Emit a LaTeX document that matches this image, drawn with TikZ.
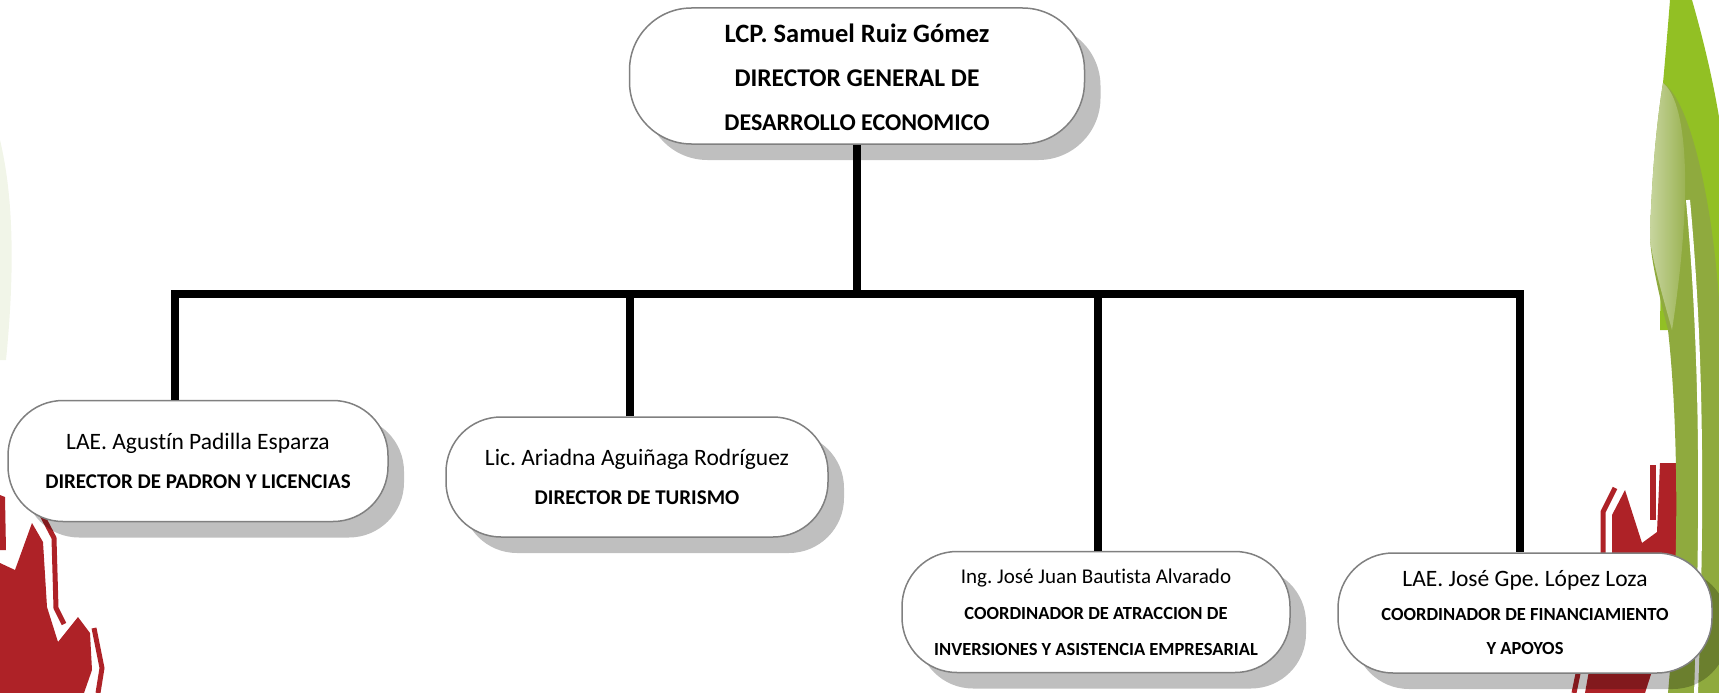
\documentclass[tikz,border=0pt]{standalone}
\usepackage{fontspec}
\setmainfont{Carlito}[Ligatures=NoCommon]
\usetikzlibrary{shadows}
\frenchspacing

\definecolor{boxline}{RGB}{128,128,128}
\definecolor{leafgreen}{RGB}{146,192,36}
\definecolor{leafolive}{RGB}{143,170,62}
\definecolor{flamered}{RGB}{174,34,39}

\tikzset{
  orgbox/.style={draw=boxline, line width=1.5pt, fill=white, rounded corners=55pt,
    align=center, inner sep=0pt,
    drop shadow={shadow xshift=16pt, shadow yshift=-16pt, opacity=0.25, fill=black}},
  wire/.style={line width=8.5pt, line join=miter},
}
\newcommand\namefont{\fontsize{23.5}{39}\selectfont}
\newcommand\smallname{\fontsize{21}{36}\selectfont}
\newcommand\posfont[1]{{\bfseries\fontsize{21}{39}\selectfont #1}}
\newcommand\coordfont[1]{{\bfseries\fontsize{18.5}{36}\selectfont #1}}

\begin{document}
\begin{tikzpicture}[x=1pt, y=-1pt]
    \useasboundingbox (0,0) rectangle (1719,693);
    % background leaves and flames
    \begin{scope}
      \clip (0,0) rectangle (1719,693);
      \fill[leafolive!12] (0,140) .. controls (12,190) and (16,260) .. (6,360) -- (0,360) -- cycle;
      \fill[flamered] (0,563) -- (15,570) -- (32,523) -- (43,542) -- (47,607) -- (58,642)
        -- (78,617) -- (90,633) -- (92,670) -- (84,693) -- (0,693) -- cycle;
      \fill[flamered] (0,495) -- (5,497) -- (6,550) -- (0,550) -- cycle;
      \draw[flamered, line width=5pt] (42,515) -- (54,538) -- (56,608) -- (64,624);
      \draw[flamered, line width=5pt] (94,628) -- (102,668) -- (98,693);
      \fill[flamered] (1625,490) -- (1642,543) -- (1657,532) -- (1660,463) -- (1681,463)
        -- (1683,560) -- (1662,640) -- (1645,693) -- (1585,693) -- (1598,620)
        -- (1612,555) -- (1612,515) -- cycle;
      \fill[flamered] (1650,465) -- (1656,465) -- (1656,520) -- (1650,520) -- cycle;
      \draw[flamered, line width=5pt] (1615,488) -- (1603,512) -- (1603,555) -- (1588,625) -- (1574,693);
      \fill[leafgreen] (1670,0) -- (1692,0) .. controls (1702,35) and (1712,75) .. (1719,117)
        -- (1719,330) -- (1660,330) -- (1663,83) .. controls (1666,50) and (1668,25) .. cycle;
      \fill[leafolive] (1663,83) .. controls (1690,100) and (1712,200) .. (1719,300)
        -- (1719,693) -- (1668,693) .. controls (1680,560) and (1678,420) .. (1668,330)
        .. controls (1655,280) and (1650,250) .. (1650,235)
        .. controls (1652,170) and (1657,120) .. cycle;
      \shade[left color=leafolive!50!white, right color=leafolive]
        (1663,83) .. controls (1685,100) and (1695,180) .. (1672,330)
        .. controls (1658,280) and (1650,250) .. (1650,235)
        .. controls (1652,170) and (1657,120) .. cycle;
      \draw[white, line width=4pt] (1688,200) .. controls (1700,330) and (1704,480) .. (1696,693);
    \end{scope}
    % boxes
    \node[orgbox, minimum width=455pt, minimum height=136pt, rounded corners=62pt,
      font=\bfseries\fontsize{25.5}{44}\selectfont] (director) at (857,76)
      {{\fontsize{26.5}{44}\selectfont\rule{0pt}{22pt}LCP. Samuel Ruiz Gómez}\\DIRECTOR GENERAL DE\\
       {\fontsize{24}{44}\selectfont DESARROLLO ECONOMICO}};
    \node[orgbox, minimum width=380pt, minimum height=121pt, font=\namefont] (padron) at (198,461)
      {LAE. Agustín Padilla Esparza\\\posfont{DIRECTOR DE PADRON Y LICENCIAS}};
    \node[orgbox, minimum width=382pt, minimum height=120pt, font=\namefont] (turismo) at (637,477)
      {Lic. Ariadna Aguiñaga Rodríguez\\\posfont{DIRECTOR DE TURISMO}};
    \node[orgbox, minimum width=388pt, minimum height=121pt, font=\smallname] (atraccion) at (1096,612)
      {Ing. José Juan Bautista Alvarado\\\coordfont{COORDINADOR DE ATRACCION DE}\\
       \coordfont{INVERSIONES Y ASISTENCIA EMPRESARIAL}};
    \node[orgbox, minimum width=374pt, minimum height=120pt, font=\fontsize{23.5}{34}\selectfont]
      (financiamiento) at (1525,613)
      {LAE. José Gpe. López Loza\\\coordfont{COORDINADOR DE FINANCIAMIENTO}\\\coordfont{Y APOYOS}};
    % connectors
    \coordinate (j1) at (175,294);
    \coordinate (j2) at (630,294);
    \coordinate (j3) at (1098,294);
    \coordinate (j4) at (1520,294);
    \draw[wire] (director.south) -- (director.south |- j1);
    \draw[wire] (padron.north -| j1) -- (j1) -- (j4) -- (financiamiento.north -| j4);
    \draw[wire] (turismo.north -| j2) -- (j2);
    \draw[wire] (atraccion.north -| j3) -- (j3);
\end{tikzpicture}
\end{document}
